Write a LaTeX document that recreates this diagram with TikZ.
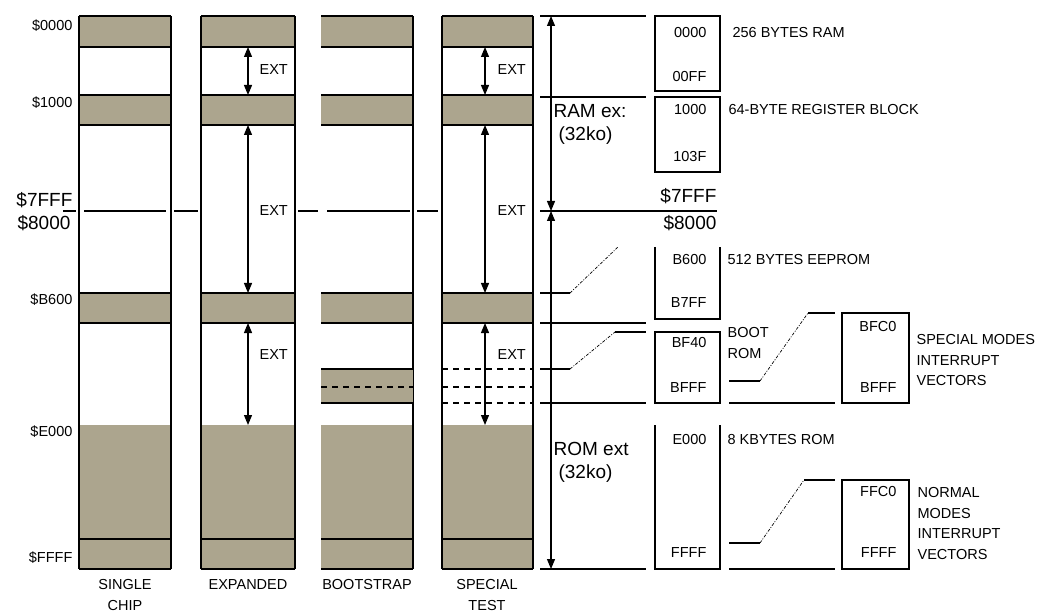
\documentclass[tikz,border=0pt]{standalone}
\usepackage{fontspec}
\setmainfont{Liberation Sans}
\usetikzlibrary{arrows.meta}
\definecolor{memfill}{RGB}{172,165,142}

\begin{document}
\begin{tikzpicture}[x=1pt, y=-1pt, line width=1.2pt,
    lbl/.style={inner sep=0pt, font=\fontsize{14.5}{20.5}\selectfont},
    biglbl/.style={inner sep=0pt, font=\fontsize{19}{23}\selectfont},
    span/.style={{Triangle[width=8pt,length=10pt]}-{Triangle[width=8pt,length=10pt]}},
    gapline/.style={dash pattern=on 6pt off 5pt},
    slant/.style={line width=0.7pt, dash pattern=on 3pt off 1.5pt on 1pt off 1.5pt}]
  \useasboundingbox (0,0) rectangle (1052,612);

  % memory columns
  \foreach \l/\r in {79/171, 201/295, 321/413, 442/533} {
    \fill[memfill] (\l,16) rectangle (\r,47) (\l,95) rectangle (\r,125)
      (\l,293) rectangle (\r,323) (\l,425) rectangle (\r,569);
    \foreach \y in {16,47,95,125,293,323,539,569}
      \draw (\l,\y) -- (\r,\y);
    \draw (\r,16) -- (\r,569);
  }
  \foreach \l in {79, 201, 442}
    \draw (\l,16) -- (\l,569);
  \fill[memfill] (321,369) rectangle (413,403);
  \draw (321,369) -- (413,369) (321,403) -- (413,403);
  \draw[gapline] (321,387) -- (413,387);
  \foreach \y in {369, 387, 403}
    \draw[gapline] (442,\y) -- (533,\y);
  \foreach \a/\b in {63/76, 84/166, 174/198, 298/318, 327/410, 417/438}
    \draw (\a,211) -- (\b,211);

  % EXT ranges
  \foreach \x/\t in {248/259, 485/497} {
    \coordinate (e0) at (\x,47);  \coordinate (e1) at (\x,95);
    \coordinate (e2) at (\x,125); \coordinate (e3) at (\x,293);
    \coordinate (e4) at (\x,323); \coordinate (e5) at (\x,425);
    \draw[span] (e0) -- (e1);
    \draw[span] (e2) -- (e3);
    \draw[span] (e4) -- (e5);
    \node[lbl, anchor=west] at (\t,70) {EXT};
    \node[lbl, anchor=west] at (\t,211) {EXT};
    \node[lbl, anchor=west] at (\t,355) {EXT};
  }

  % addresses at left
  \begin{scope}[every node/.style={lbl, anchor=east}]
    \node (a0000) at (73,26) {\$0000};
    \node (a1000) at (73,103) {\$1000};
    \node[biglbl] (a7fff) at (73,200) {\$7FFF};
    \node[biglbl] (a8000) at (71,223) {\$8000};
    \node (ab600) at (73,300) {\$B600};
    \node (ae000) at (73,432) {\$E000};
    \node (affff) at (73,558) {\$FFFF};
  \end{scope}

  % mode names
  \begin{scope}[every node/.style={lbl, align=center}]
    \node (single) at (125,595) {SINGLE\\CHIP};
    \node (expanded) at (248,585) {EXPANDED};
    \node (boot) at (367,585) {BOOTSTRAP};
    \node (special) at (487,595) {SPECIAL\\TEST};
  \end{scope}

  % RAM / ROM split
  \coordinate (top) at (551,16);
  \coordinate (mid) at (551,211);
  \coordinate (bot) at (551,569);
  \draw[span] (top) -- (mid);
  \draw[span] (mid) -- (bot);
  \foreach \y in {16, 97, 323, 403, 569}
    \draw (540,\y) -- (646,\y);
  \draw (540,211) -- (717,211);
  \draw (540,293) -- (570,293);
  \draw[slant] (570,293) -- (618,247);
  \draw (540,369) -- (570,369);
  \draw[slant] (570,369) -- (615,332);
  \draw (615,332) -- (646,332);
  \node[biglbl, anchor=west, align=left] (ramext) at (553,124.5) {RAM ex:\\\hspace{5pt}(32ko)};
  \node[biglbl, anchor=west, align=left] (romext) at (553,462.5) {ROM ext\\\hspace{5pt}(32ko)};
  \node[biglbl, anchor=east] (r7fff) at (717,196) {\$7FFF};
  \node[biglbl, anchor=east] (r8000) at (717,223) {\$8000};

  % internal blocks
  \draw (655,16) rectangle (720,91);
  \draw (655,97) rectangle (720,172);
  \draw (655,247) -- (655,319) -- (720,319) -- (720,247);
  \draw (655,332) rectangle (720,403);
  \draw (655,425) -- (655,569) -- (720,569) -- (720,425);
  \begin{scope}[every node/.style={lbl, anchor=east}]
    \node (b0000) at (707,33) {0000};
    \node (b00ff) at (707,77) {00FF};
    \node (b1000) at (707,110) {1000};
    \node (b103f) at (707,157) {103F};
    \node (bb600) at (707,260) {B600};
    \node (bb7ff) at (707,303) {B7FF};
    \node (bbf40) at (707,343) {BF40};
    \node (bbfff) at (707,388) {BFFF};
    \node (be000) at (707,440) {E000};
    \node (bffff) at (707,553) {FFFF};
  \end{scope}
  \begin{scope}[every node/.style={lbl, anchor=west, align=left}]
    \node (ram) at (732,33) {256 BYTES RAM};
    \node (regs) at (728,110) {64-BYTE REGISTER BLOCK};
    \node (eeprom) at (727,260) {512 BYTES EEPROM};
    \node (bootrom) at (727,343) {BOOT\\ROM};
    \node (rom) at (727,440) {8 KBYTES ROM};
  \end{scope}

  % vector blocks
  \draw (808,313) -- (835,313);
  \draw[slant] (760,381) -- (808,313);
  \draw (729,381) -- (760,381);
  \draw (729,403) -- (835,403);
  \draw (804,480) -- (835,480);
  \draw[slant] (760,543) -- (804,480);
  \draw (729,543) -- (760,543);
  \draw (729,569) -- (835,569);
  \draw (842,313) rectangle (909,403);
  \draw (842,480) rectangle (909,569);
  \begin{scope}[every node/.style={lbl, anchor=east}]
    \node (vbfc0) at (897,327) {BFC0};
    \node (vbfff) at (897,388) {BFFF};
    \node (vffc0) at (897,492) {FFC0};
    \node (vffff) at (897,553) {FFFF};
  \end{scope}
  \begin{scope}[every node/.style={lbl, anchor=west, align=left}]
    \node (specvec) at (916,360.5) {SPECIAL MODES\\INTERRUPT\\VECTORS};
    \node (normvec) at (917,523.5) {NORMAL\\MODES\\INTERRUPT\\VECTORS};
  \end{scope}
\end{tikzpicture}
\end{document}
